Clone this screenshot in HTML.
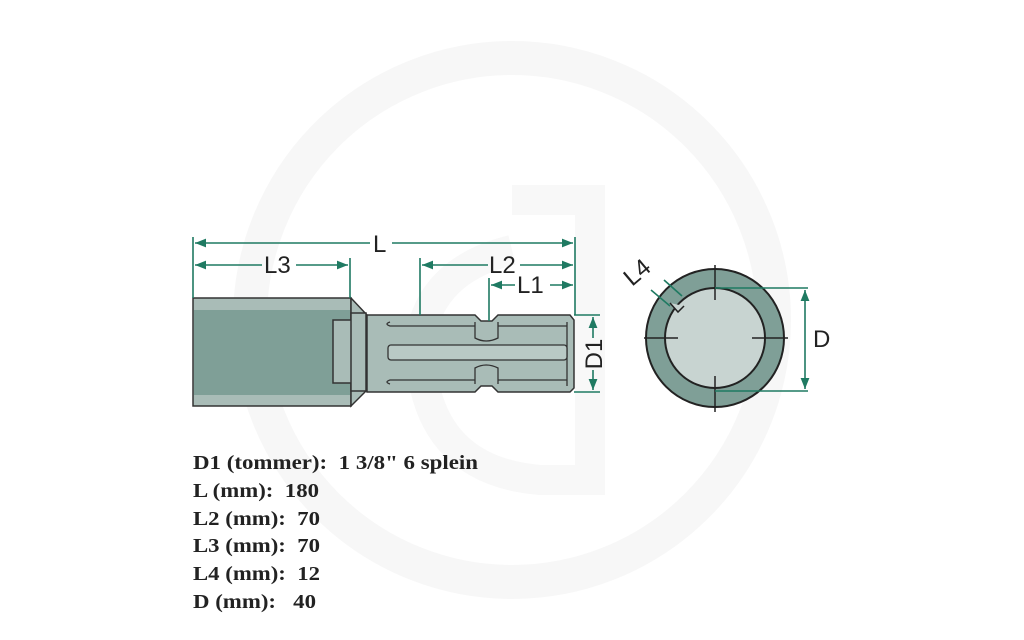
<!DOCTYPE html>
<html><head><meta charset="utf-8"><style>
html,body{margin:0;padding:0;background:#fff;}
svg{display:block}
.t{font-family:"Liberation Serif",serif;font-weight:bold;font-size:20px;fill:#222;white-space:pre}
.d{font-family:"Liberation Sans",sans-serif;font-size:24px;fill:#222}
</style></head><body>
<svg width="1024" height="640" viewBox="0 0 1024 640" xmlns="http://www.w3.org/2000/svg">
<defs>
<marker id="a" viewBox="0 0 10 10" refX="10" refY="5" markerWidth="7" markerHeight="7" orient="auto-start-reverse"><path d="M0,1 L10,5 L0,9 z" fill="#1f7a62"/></marker>
</defs>
<circle cx="512" cy="320" r="262" fill="none" stroke="#f7f7f7" stroke-width="34"/>
<path d="M512,200 L590,200 L590,480 L540,480 Q420,470 420,340 Q430,270 512,250" fill="none" stroke="#f8f8f8" stroke-width="30"/>

<rect x="193" y="298" width="158" height="108" fill="#a9bcb7" stroke="#333" stroke-width="1.5"/>
<rect x="194" y="310" width="156" height="85" fill="#7f9f97"/>
<polygon points="351,298 367,315 367,390 351,406" fill="#a9bcb7" stroke="#333" stroke-width="1.5"/>
<rect x="333" y="320" width="20" height="63" fill="#a9bcb7" stroke="#333" stroke-width="1.5"/>
<rect x="351" y="313" width="15" height="78" fill="#a9bcb7" stroke="#333" stroke-width="1.5"/>
<path d="M367,315 L475,315 L481,321 L492,321 L498,315 L570,315 L574,320 L574,388 L570,392 L498,392 L492,386 L481,386 L475,392 L367,392 Z" fill="#a9bcb7" stroke="#333" stroke-width="1.5"/>
<g fill="none" stroke="#333" stroke-width="1.3">
<path d="M390,322 Q384,324 390,326 L475,326 M390,384 Q384,382 390,380 L475,380"/>
<path d="M475,322 L475,338 Q486,344 498,338 L498,322 M475,384 L475,368 Q486,362 498,368 L498,384"/>
<path d="M498,326 L567,326 M498,380 L567,380 M567,322 L567,386"/>
</g>
<rect x="388" y="345" width="179" height="15" rx="3" fill="#b9c9c5" stroke="#333" stroke-width="1.3"/>

<g stroke="#1f7a62" stroke-width="1.6" fill="none">
<line x1="193" y1="237" x2="193" y2="298"/>
<line x1="575" y1="237" x2="575" y2="315"/>
<line x1="350" y1="258" x2="350" y2="298"/>
<line x1="420" y1="258" x2="420" y2="315"/>
<line x1="489" y1="278" x2="489" y2="321"/>
<line x1="195" y1="243" x2="370" y2="243" marker-start="url(#a)"/>
<line x1="392" y1="243" x2="573" y2="243" marker-end="url(#a)"/>
<line x1="195" y1="265" x2="262" y2="265" marker-start="url(#a)"/>
<line x1="296" y1="265" x2="348" y2="265" marker-end="url(#a)"/>
<line x1="422" y1="265" x2="488" y2="265" marker-start="url(#a)"/>
<line x1="520" y1="265" x2="573" y2="265" marker-end="url(#a)"/>
<line x1="491" y1="285" x2="515" y2="285" marker-start="url(#a)"/>
<line x1="550" y1="285" x2="573" y2="285" marker-end="url(#a)"/>
<line x1="574" y1="315" x2="600" y2="315"/>
<line x1="574" y1="392" x2="600" y2="392"/>
<line x1="593" y1="317" x2="593" y2="338" marker-start="url(#a)"/>
<line x1="593" y1="370" x2="593" y2="390" marker-end="url(#a)"/>
</g>
<text class="d" x="373" y="252">L</text>
<text class="d" x="264" y="273">L3</text>
<text class="d" x="489" y="273">L2</text>
<text class="d" x="517" y="293">L1</text>
<text class="d" transform="translate(602,354) rotate(-90)" text-anchor="middle">D1</text>

<circle cx="715" cy="338" r="69" fill="#7f9f97" stroke="#222" stroke-width="2"/>
<circle cx="715" cy="338" r="50" fill="#c8d4d1" stroke="#222" stroke-width="2"/>
<path d="M670,303 L678,312 L684,306" fill="#c8d4d1" stroke="#222" stroke-width="1.5"/>
<g stroke="#222" stroke-width="1.5">
<line x1="715" y1="265" x2="715" y2="300"/><line x1="715" y1="376" x2="715" y2="412"/>
<line x1="644" y1="338" x2="678" y2="338"/><line x1="752" y1="338" x2="788" y2="338"/>
</g>
<g stroke="#1f7a62" stroke-width="1.6" fill="none">
<line x1="715" y1="288" x2="808" y2="288"/>
<line x1="715" y1="391" x2="808" y2="391"/>
<line x1="805" y1="290" x2="805" y2="389" marker-start="url(#a)" marker-end="url(#a)"/>
<line x1="664" y1="280" x2="682" y2="296"/>
<line x1="651" y1="290" x2="670" y2="306"/>
</g>
<text class="d" x="813" y="347">D</text>
<text class="d" transform="translate(632,287) rotate(-40)">L4</text>

<text class="t" x="193" y="469" xml:space="preserve" textLength="285" lengthAdjust="spacingAndGlyphs">D1 (tommer):  1 3/8" 6 splein</text>
<text class="t" x="193" y="497" xml:space="preserve" textLength="126" lengthAdjust="spacingAndGlyphs">L (mm):  180</text>
<text class="t" x="193" y="525" xml:space="preserve" textLength="127" lengthAdjust="spacingAndGlyphs">L2 (mm):  70</text>
<text class="t" x="193" y="552" xml:space="preserve" textLength="127" lengthAdjust="spacingAndGlyphs">L3 (mm):  70</text>
<text class="t" x="193" y="580" xml:space="preserve" textLength="127" lengthAdjust="spacingAndGlyphs">L4 (mm):  12</text>
<text class="t" x="193" y="608" xml:space="preserve" textLength="123" lengthAdjust="spacingAndGlyphs">D (mm):   40</text>
</svg>
</body></html>
